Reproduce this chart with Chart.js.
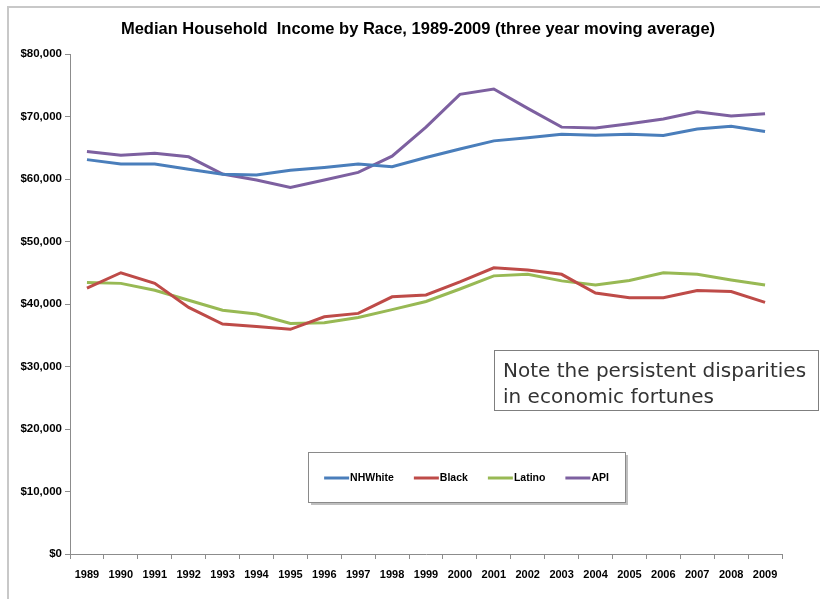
<!DOCTYPE html>
<html>
<head>
<meta charset="utf-8">
<script src="https://cdn.jsdelivr.net/npm/chart.js@4.4.1/dist/chart.umd.min.js"></script>
<style>
  html, body { margin: 0; padding: 0; background: #ffffff; }
  #wrap { position: relative; width: 820px; height: 599px; }
</style>
</head>
<body>
<div id="wrap"><canvas id="chart" width="820" height="599"></canvas></div>
<script>
// Median household income, three-year moving average, by group
const years = ['1989','1990','1991','1992','1993','1994','1995','1996','1997','1998','1999',
               '2000','2001','2002','2003','2004','2005','2006','2007','2008','2009'];
const nhWhite = [63100, 62400, 62400, 61550, 60750, 60650, 61400, 61850, 62400, 61950, 63450,
                 64800, 66100, 66600, 67150, 67000, 67150, 66950, 68000, 68450, 67600];
const black   = [42550, 45000, 43300, 39450, 36800, 36400, 35950, 37950, 38500, 41150, 41450,
                 43550, 45800, 45450, 44750, 41750, 41000, 41000, 42150, 42000, 40250];
const latino  = [43450, 43300, 42200, 40600, 39000, 38400, 36900, 37000, 37850, 39100, 40400,
                 42400, 44500, 44750, 43700, 43050, 43750, 45000, 44750, 43850, 43050];
const api     = [64400, 63800, 64100, 63550, 60800, 59850, 58650, 59850, 61050, 63650, 68300,
                 73550, 74400, 71300, 68300, 68150, 68850, 69600, 70750, 70100, 70450];
const seriesNames = ['NHWhite', 'Black', 'Latino', 'API'];
const yTicks = [0, 10000, 20000, 30000, 40000, 50000, 60000, 70000, 80000];

const titleText = 'Median Household  Income by Race, 1989-2009 (three year moving average)';
const noteLines = ['Note the persistent disparities', 'in economic fortunes'];

const colors = ['#4a7ebb', '#be4b48', '#98b954', '#7d60a0'];

// Frame, title, inset legend and note box
const decorations = {
  id: 'decorations',
  afterDraw(chart) {
    const ctx = chart.ctx;
    ctx.save();

    // outer frame (top and left edges)
    ctx.strokeStyle = '#c8c8c8';
    ctx.lineWidth = 2;
    ctx.beginPath();
    ctx.moveTo(8, 599);
    ctx.lineTo(8, 7);
    ctx.lineTo(820, 7);
    ctx.stroke();

    // title
    ctx.fillStyle = '#000000';
    ctx.font = 'bold 16.5px "Liberation Sans", Arial, sans-serif';
    ctx.textAlign = 'center';
    ctx.textBaseline = 'middle';
    ctx.fillText(titleText, 418, 29);

    // legend box with shadow
    const lx = 308, ly = 452, lw = 317, lh = 50;
    ctx.fillStyle = 'rgba(0,0,0,0.25)';
    ctx.fillRect(lx + 3, ly + 3, lw, lh);
    ctx.fillStyle = '#ffffff';
    ctx.fillRect(lx, ly, lw, lh);
    ctx.strokeStyle = '#8a8a8a';
    ctx.lineWidth = 1;
    ctx.strokeRect(lx + 0.5, ly + 0.5, lw, lh);

    ctx.font = 'bold 10.5px "Liberation Sans", Arial, sans-serif';
    ctx.textAlign = 'left';
    const sw = 25, gap = 20;
    const items = chart.data.datasets.map(ds => ({
      label: ds.label, color: ds.borderColor, w: ctx.measureText(ds.label).width
    }));
    const total = items.reduce((s, it) => s + sw + 1 + it.w, 0) + gap * (items.length - 1);
    let x = lx + (lw - total) / 2;
    const cy = ly + lh / 2 + 1;
    items.forEach(it => {
      ctx.strokeStyle = it.color;
      ctx.lineWidth = 3;
      ctx.beginPath();
      ctx.moveTo(x, cy);
      ctx.lineTo(x + sw, cy);
      ctx.stroke();
      ctx.fillStyle = '#000000';
      ctx.fillText(it.label, x + sw + 1, cy);
      x += sw + 1 + it.w + gap;
    });

    // note box
    ctx.strokeStyle = '#7f7f7f';
    ctx.lineWidth = 1;
    ctx.strokeRect(494.5, 350.5, 324, 60);
    ctx.fillStyle = '#333333';
    ctx.font = '20px "DejaVu Sans", sans-serif';
    ctx.textBaseline = 'alphabetic';
    ctx.fillText(noteLines[0], 503, 377);
    ctx.fillText(noteLines[1], 503, 403);

    ctx.restore();
  }
};

const tickFont = { family: '"Liberation Sans", Arial, sans-serif', size: 11.5, weight: 'bold' };

new Chart(document.getElementById('chart'), {
  type: 'line',
  data: {
    labels: years,
    datasets: [nhWhite, black, latino, api].map((vals, i) => ({
      label: seriesNames[i],
      data: vals,
      borderColor: colors[i],
      backgroundColor: colors[i],
      borderWidth: 3,
      pointRadius: 0,
      tension: 0,
      fill: false
    }))
  },
  options: {
    responsive: false,
    animation: false,
    layout: { padding: { top: 54, right: 38, left: 8, bottom: 0 } },
    plugins: {
      legend: { display: false },
      title: { display: false },
      tooltip: { enabled: false }
    },
    scales: {
      x: {
        type: 'category',
        offset: true,
        grid: { offset: true, drawOnChartArea: false, tickLength: 5, color: '#8c8c8c' },
        border: { color: '#8c8c8c', width: 1 },
        ticks: { color: '#000000', font: { ...tickFont, size: 11 }, padding: 9, maxRotation: 0, autoSkip: false },
        afterFit(scale) { scale.height = 45; }
      },
      y: {
        min: 0,
        max: 80000,
        afterBuildTicks(scale) { scale.ticks = yTicks.map(v => ({ value: v })); },
        grid: { drawOnChartArea: false, tickLength: 5, color: '#8c8c8c' },
        border: { color: '#8c8c8c', width: 1 },
        ticks: {
          color: '#000000',
          font: tickFont,
          padding: 3,
          callback: v => '$' + v.toLocaleString('en-US')
        },
        afterFit(scale) { scale.width = 62; }
      }
    }
  },
  plugins: [decorations]
});
</script>
</body>
</html>
